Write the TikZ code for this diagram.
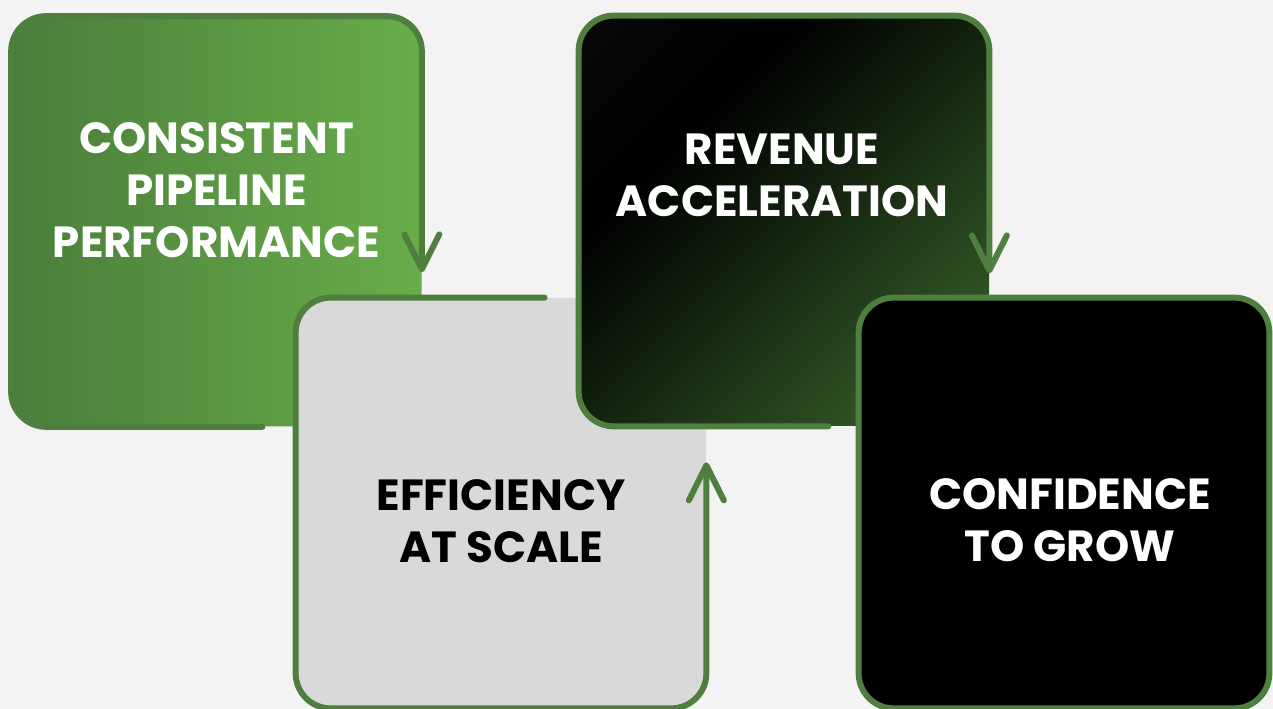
\documentclass[tikz,border=0pt]{standalone}
\usepackage{fontspec}
\setmainfont{Poppins}
\usetikzlibrary{arrows.meta}

\definecolor{pagegray}{HTML}{F3F3F3}
\definecolor{boxgray}{HTML}{D9D9D9}
\definecolor{leafgreen}{HTML}{4F7F3F}
\definecolor{darkleaf}{HTML}{4A7D3A}
\definecolor{lightleaf}{HTML}{68AD4A}
\definecolor{nightleaf}{HTML}{3F7030}
\pgfdeclarehorizontalshading{nightfade}{100bp}{color(0bp)=(black!95!white); color(34bp)=(black); color(88bp)=(nightleaf); color(100bp)=(nightleaf)}

\begin{document}
\begin{tikzpicture}[
	card/.style={rectangle, rounded corners=0.7cm, minimum width=8.2cm, minimum height=8.2cm, inner sep=0pt},
	rim/.style={draw=leafgreen, line width=3.4pt, rounded corners=0.7cm, line cap=round, line join=round},
	turn/.style={-{Straight Barb[length=0.7cm, width=0.7cm, round]}},
	caption/.style={font=\bfseries\fontsize{24.8}{29.6}\selectfont, align=center, text=white}
	]
	\fill[pagegray] (0,0) rectangle (25.46,14.18);
	\useasboundingbox (0,0) rectangle (25.46,14.18);

	\node[card, left color=darkleaf, right color=lightleaf] (pipeline) at (4.33,9.75) {};
	\draw[rim, turn] ([xshift=-3.19cm]pipeline.south east) -- (pipeline.south west) -- (pipeline.north west) -- (pipeline.north east) -- ([yshift=3.09cm]pipeline.south east);
	\node[caption] (pipelinetext) at ([yshift=0.63cm]pipeline.center) {CONSISTENT\\PIPELINE\\PERFORMANCE};

	\node[card, fill=boxgray] (efficiency) at (10.02,4.12) {};
	\draw[rim, turn] ([xshift=4.98cm]efficiency.north west) -- (efficiency.north west) -- (efficiency.south west) -- (efficiency.south east) -- ([yshift=4.92cm]efficiency.south east);
	\node[caption, text=black] (efficiencytext) at ([yshift=-0.36cm]efficiency.center) {EFFICIENCY\\AT SCALE};

	\node[card, shading=nightfade, shading angle=-45] (revenue) at (15.68,9.76) {};
	\draw[rim, turn] ([xshift=-3.22cm]revenue.south east) -- (revenue.south west) -- (revenue.north west) -- (revenue.north east) -- ([yshift=3.06cm]revenue.south east);
	\node[caption] (revenuetext) at ([xshift=-0.04cm,yshift=0.92cm]revenue.center) {REVENUE\\ACCELERATION};

	\node[card, fill=black] (confidence) at (21.28,4.12) {};
	\draw[rim] (confidence.north west) rectangle (confidence.south east);
	\node[caption] (confidencetext) at ([xshift=0.12cm,yshift=-0.34cm]confidence.center) {CONFIDENCE\\TO GROW};
\end{tikzpicture}
\end{document}
